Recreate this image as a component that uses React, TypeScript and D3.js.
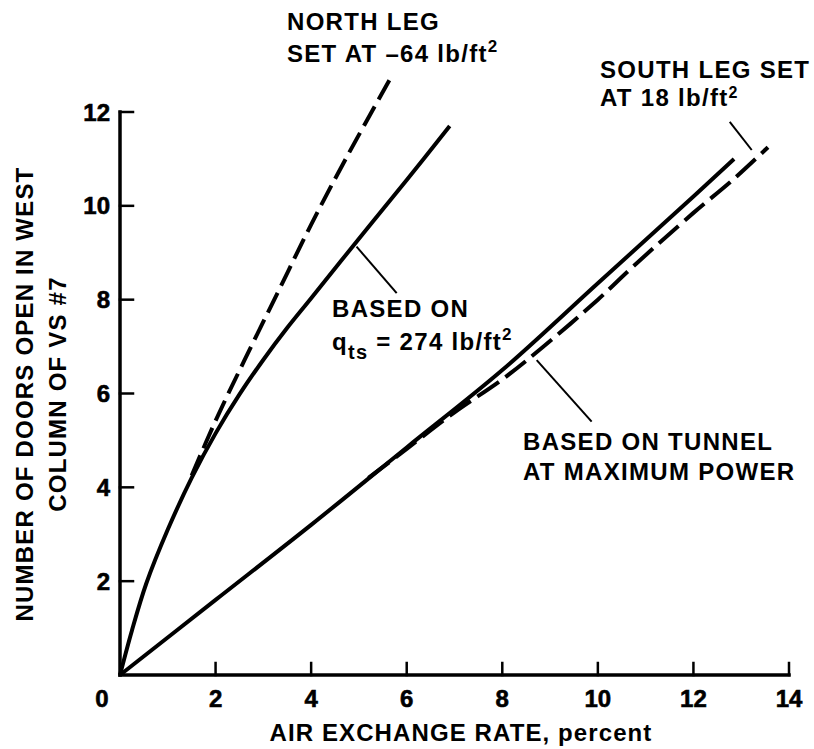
import React from 'react';
import * as d3 from 'd3';

const W = 814;
const H = 749;

// Axis ticks
const xTicks = [2, 4, 6, 8, 10, 12, 14];
const yTicks = [2, 4, 6, 8, 10, 12];

// Curve based on q_ts = 274 lb/ft^2
const qtsX = [0, 0.25, 0.55, 1.0, 1.5, 2.0, 2.5, 3.0, 3.5, 4.0, 5.0, 6.0, 6.9];
const qtsY = [0, 0.95, 1.95, 3.1, 4.2, 5.15, 5.98, 6.72, 7.4, 8.03, 9.3, 10.55, 11.7];

// North leg set at -64 lb/ft^2 (dashed)
const northX = [1.5, 2.0, 2.6, 3.3, 4.0, 4.75, 5.65];
const northY = [4.25, 5.42, 6.7, 8.15, 9.6, 11.05, 12.7];

// Tunnel at maximum power
const tunnelX = [0, 2, 4, 6, 8, 10, 12, 12.85];
const tunnelY = [0, 1.6, 3.2, 4.85, 6.5, 8.35, 10.2, 11.0];

// South leg set at 18 lb/ft^2 (dashed)
const southX = [5.2, 6, 7, 8, 8.85, 10, 10.73, 12, 12.82, 13.56];
const southY = [4.2, 4.82, 5.6, 6.3, 6.99, 8.0, 8.7, 9.85, 10.55, 11.25];

const FONT = '"Liberation Sans", Arial, Helvetica, sans-serif';

const x = d3.scaleLinear().domain([0, 14]).range([120, 789]);
const y = d3.scaleLinear().domain([0, 12]).range([675, 112]);

const zip = (xs: number[], ys: number[]) => xs.map((v, i) => [v, ys[i]] as [number, number]);

const line = d3
  .line<[number, number]>()
  .x((d) => x(d[0]))
  .y((d) => y(d[1]))
  .curve(d3.curveCatmullRom.alpha(0.5));

// Leader lines from labels to curves, in data units
const leaders: [number, number, number, number][] = [
  [4.95, 9.13, 5.79, 8.14],
  [8.72, 6.71, 9.87, 5.4],
  [12.76, 11.79, 13.22, 11.19],
];

const textStyle = {
  fontFamily: FONT,
  fontWeight: 700,
  fontSize: 24,
  letterSpacing: 1.3,
  fill: '#000',
} as const;

export default function App() {
  return (
    <svg
      width={W}
      height={H}
      viewBox={`0 0 ${W} ${H}`}
      style={{ position: 'absolute', left: 0, top: 0, background: '#fff' }}
    >
      <rect x={0} y={0} width={W} height={H} fill="#fff" />

      {/* axes */}
      <g stroke="#000" strokeLinecap="square">
        <line x1={x(0)} y1={y(0)} x2={x(14)} y2={y(0)} strokeWidth={3.5} />
        <line x1={x(0)} y1={y(0)} x2={x(0)} y2={y(12)} strokeWidth={3.5} />
        {xTicks.map((t) => (
          <line key={'xt' + t} x1={x(t)} x2={x(t)} y1={y(0)} y2={y(0) - 12} strokeWidth={2.5} />
        ))}
        {yTicks.map((t) => (
          <line key={'yt' + t} x1={x(0)} x2={x(0) + 13} y1={y(t)} y2={y(t)} strokeWidth={2.5} />
        ))}
      </g>

      {/* tick labels */}
      <g style={{ ...textStyle, letterSpacing: 0 }} stroke="#000" strokeWidth={0.6}>
        {xTicks.map((t) => (
          <text key={'xl' + t} x={x(t)} y={707} textAnchor="middle">
            {t}
          </text>
        ))}
        <text x={x(0) - 18} y={707} textAnchor="middle">
          0
        </text>
        {yTicks.map((t) => (
          <text key={'yl' + t} x={x(0) - 10} y={y(t) + 8.5} textAnchor="end">
            {t}
          </text>
        ))}
      </g>

      {/* axis titles */}
      <text x={461} y={741} textAnchor="middle" style={{ ...textStyle, letterSpacing: 1.1 }}>
        AIR EXCHANGE RATE, percent
      </text>
      <g style={{ ...textStyle, letterSpacing: 1.2 }}>
        <text transform="translate(33,394) rotate(-90)" textAnchor="middle">
          NUMBER OF DOORS OPEN IN WEST
        </text>
        <text transform="translate(66,394) rotate(-90)" textAnchor="middle">
          COLUMN OF VS #7
        </text>
      </g>

      {/* curves */}
      <g fill="none" stroke="#000" strokeWidth={4}>
        <path d={line(zip(qtsX, qtsY)) || ''} />
        <path d={line(zip(northX, northY)) || ''} strokeDasharray="22 8" />
        <path d={line(zip(tunnelX, tunnelY)) || ''} />
        <path d={line(zip(southX, southY)) || ''} strokeDasharray="26 8" />
      </g>

      {/* leader lines */}
      <g stroke="#000" strokeWidth={2}>
        {leaders.map((l, i) => (
          <line key={'ld' + i} x1={x(l[0])} y1={y(l[1])} x2={x(l[2])} y2={y(l[3])} />
        ))}
      </g>

      {/* annotations */}
      <g style={textStyle}>
        <text x={287} y={30}>NORTH LEG</text>
        <text x={287} y={62}>
          SET AT –64 lb/ft
          <tspan fontSize={17} dy={-10}>2</tspan>
        </text>

        <text x={600} y={78}>SOUTH LEG SET</text>
        <text x={600} y={106}>
          AT 18 lb/ft
          <tspan fontSize={16} dy={-8}>2</tspan>
        </text>

        <text x={332} y={317}>BASED ON</text>
        <text x={332} y={350}>
          q
          <tspan fontSize={20} dy={9}>ts</tspan>
          <tspan dy={-9}> = 274 lb/ft</tspan>
          <tspan fontSize={17} dy={-10}>2</tspan>
        </text>

        <text x={523} y={450}>BASED ON TUNNEL</text>
        <text x={523} y={480}>AT MAXIMUM POWER</text>
      </g>
    </svg>
  );
}
